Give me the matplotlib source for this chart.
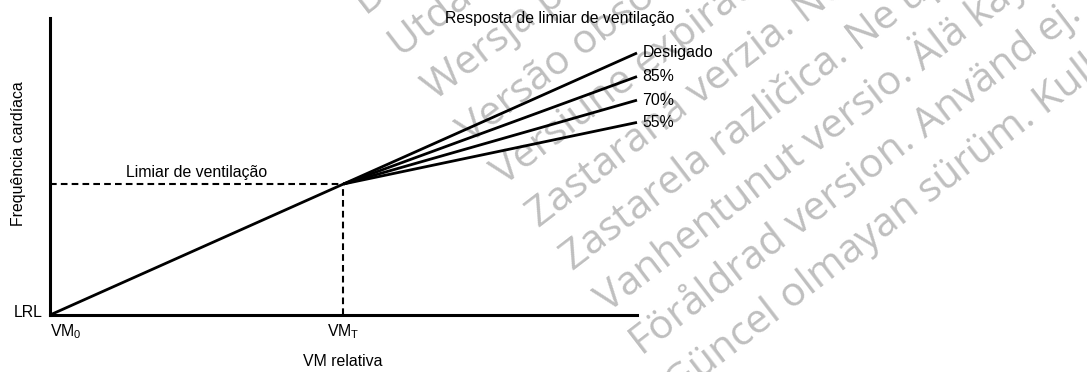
import matplotlib
matplotlib.use("Agg")
import matplotlib.pyplot as plt

plt.rcParams['font.family'] = ['Liberation Sans', 'DejaVu Sans']
plt.rcParams['mathtext.default'] = 'regular'

# relative minute ventilation: origin, threshold, end of axis
vm_ticks = [0.0, 1.0]
vm_tick_labels = ["VM$_0$", "VM$_T$"]
vm_end = 2.0

# heart rate (relative to LRL) at the ventilation threshold
hr_threshold = 1.0

# response curves above the threshold, value reached at vm_end
response_labels = ["Desligado", "85%", "70%", "55%"]
response_end = [2.0, 1.82, 1.64, 1.47]

# overlay stamp rows
stamp_rows = [
    "Deze versie is verouderd. Niet gebruiken.",
    "Utdatert versjon. Skal ikke brukes.",
    "Wersja przeterminowana. Nie używać.",
    "Versão obsoleta. Não utilizar.",
    "Versiune expirată. A nu se utiliza.",
    "Zastaraná verzia. Nepoužívať.",
    "Zastarela različica. Ne uporabljajte.",
    "Vanhentunut versio. Älä käytä.",
    "Föråldrad version. Använd ej.",
    "Güncel olmayan sürüm. Kullanmayın.",
]

FS = 11.4
W, H = 1087, 372
fig = plt.figure(figsize=(W / 100, H / 100), dpi=100)
ax = fig.add_axes([50 / W, (H - 315) / H, 587 / W, 297 / H])
ax.patch.set_visible(False)
ax.set_xlim(0, vm_end)
ax.set_ylim(0, 2.267)

for side in ["top", "right"]:
    ax.spines[side].set_visible(False)
for side in ["left", "bottom"]:
    ax.spines[side].set_linewidth(2.2)
    ax.spines[side].set_color("black")
ax.set_xticks([])
ax.set_yticks([])

# linear rise up to the threshold
ax.plot([vm_ticks[0], vm_ticks[1]], [0, hr_threshold], color="black", lw=2.0,
        solid_capstyle="butt", clip_on=False)

# threshold guides
ax.plot([0, vm_ticks[1]], [hr_threshold, hr_threshold], color="black", lw=1.5,
        dashes=(3.2, 2.0), clip_on=False)
ax.plot([vm_ticks[1], vm_ticks[1]], [0, hr_threshold], color="black", lw=1.5,
        dashes=(3.2, 2.0), clip_on=False)

# response lines
for lab, yend in zip(response_labels, response_end):
    ax.plot([vm_ticks[1], vm_end], [hr_threshold, yend], color="black", lw=2.0,
            solid_capstyle="butt", clip_on=False)
    ax.annotate(lab, xy=(vm_end, yend), xytext=(4, 0), textcoords="offset points",
                ha="left", va="center", fontsize=FS)

ax.text(0.50, hr_threshold + 0.03, "Limiar de ventilação", ha="center", va="bottom",
        fontsize=FS)
ax.annotate("Resposta de limiar de ventilação", xy=(1.735, 2.267), xytext=(0, 0),
            textcoords="offset points", ha="center", va="center", fontsize=FS)

# axis annotations
ax.annotate("LRL", xy=(0, 0), xytext=(-5, 2), textcoords="offset points",
            ha="right", va="center", fontsize=FS)
ax.annotate(vm_tick_labels[0], xy=(vm_ticks[0], 0), xytext=(0, -5),
            textcoords="offset points", ha="left", va="top", fontsize=FS)
ax.annotate(vm_tick_labels[1], xy=(vm_ticks[1], 0), xytext=(0, -5),
            textcoords="offset points", ha="center", va="top", fontsize=FS)
fig.text(343 / W, 1 - 362 / H, "VM relativa", ha="center", va="center", fontsize=FS)
fig.text(19 / W, 1 - 154 / H, "Frequência cardíaca", ha="center", va="center",
         rotation=90, fontsize=FS)

# diagonal grey stamp behind the drawing
x0, y0 = 366, 16
dx, dy = 34.5, 42.5
for i, row in enumerate(stamp_rows):
    fig.text((x0 + i * dx) / W, 1 - (y0 + i * dy) / H, row, family="Open Sans",
             fontsize=29.5, color="#bfbfbf", rotation=37.5, rotation_mode="anchor",
             ha="left", va="baseline", zorder=-1)

fig.savefig("out.png", dpi=100)
